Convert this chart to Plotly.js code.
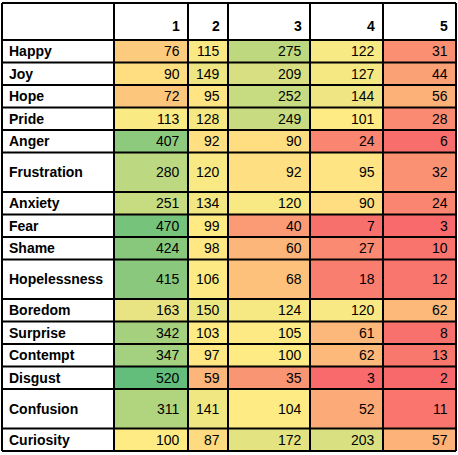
<!DOCTYPE html>
<html>
<head>
<meta charset="utf-8">
<script src="https://cdn.plot.ly/plotly-3.0.1.min.js"></script>
<style>html,body{margin:0;padding:0;background:#fff}</style>
</head>
<body>
<div id="chart" style="width:458px;height:455px"></div>
<script>
const emotions = ['Happy','Joy','Hope','Pride','Anger','Frustration','Anxiety','Fear','Shame',
  'Hopelessness','Boredom','Surprise','Contempt','Disgust','Confusion','Curiosity'];
const columns = ['1','2','3','4','5'];
const values = [
  [76,115,275,122,31],
  [90,149,209,127,44],
  [72,95,252,144,56],
  [113,128,249,101,28],
  [407,92,90,24,6],
  [280,120,92,95,32],
  [251,134,120,90,24],
  [470,99,40,7,3],
  [424,98,60,27,10],
  [415,106,68,18,12],
  [163,150,124,120,62],
  [342,103,105,61,8],
  [347,97,100,62,13],
  [520,59,35,3,2],
  [311,141,104,52,11],
  [100,87,172,203,57]
];
const tallRows = ['Frustration','Hopelessness','Confusion'];

/* layout geometry in pixels */
const colEdges = [2,114,188,228,310,383,456];
const TOP = 3, HEADER_H = 37, ROW_H = 22.5, TALL_H = 39.5;
const rowEdges = [TOP + HEADER_H];
emotions.forEach(e => rowEdges.push(rowEdges[rowEdges.length - 1] + (tallRows.includes(e) ? TALL_H : ROW_H)));

const FONT = 'Liberation Sans, Arial, sans-serif';
const annotations = [];
const shapes = [];

columns.forEach((c, j) => annotations.push({
  x: colEdges[j + 2] - 6, y: TOP + HEADER_H / 2 + 4, text: '<b>' + c + '</b>',
  xanchor: 'right', yanchor: 'middle', showarrow: false, font: { family: FONT, size: 14, color: '#000' }
}));
emotions.forEach((e, i) => {
  const yc = (rowEdges[i] + rowEdges[i + 1]) / 2;
  annotations.push({ x: colEdges[0] + 5, y: yc, text: '<b>' + e + '</b>', xanchor: 'left', yanchor: 'middle',
    showarrow: false, font: { family: FONT, size: 14, color: '#000' } });
  values[i].forEach((v, j) => annotations.push({ x: colEdges[j + 2] - 6, y: yc, text: String(v),
    xanchor: 'right', yanchor: 'middle', showarrow: false, font: { family: FONT, size: 14, color: '#000' } }));
});

const yLines = [TOP].concat(rowEdges);
yLines.forEach(y => shapes.push({ type: 'line', x0: colEdges[0], x1: colEdges[6], y0: y, y1: y,
  line: { color: '#000', width: 2 } }));
colEdges.forEach(x => shapes.push({ type: 'line', x0: x, x1: x, y0: TOP, y1: rowEdges[rowEdges.length - 1],
  line: { color: '#000', width: 2 } }));

const vmin = 2, vmid = 100, vmax = 520;
Plotly.newPlot('chart', [{
  type: 'heatmap',
  x: colEdges.slice(1),
  y: rowEdges,
  z: values,
  zmin: vmin, zmax: vmax,
  colorscale: [[0, '#F8696B'], [(vmid - vmin) / (vmax - vmin), '#FFEB84'], [1, '#63BE7B']],
  showscale: false,
  hoverinfo: 'skip'
}], {
  width: 458, height: 455,
  margin: { t: 0, b: 0, l: 0, r: 0 },
  paper_bgcolor: '#fff', plot_bgcolor: '#fff',
  xaxis: { range: [0, 458], visible: false, fixedrange: true },
  yaxis: { range: [455, 0], visible: false, fixedrange: true },
  annotations, shapes
}, { displayModeBar: false, staticPlot: true });
</script>
</body>
</html>
